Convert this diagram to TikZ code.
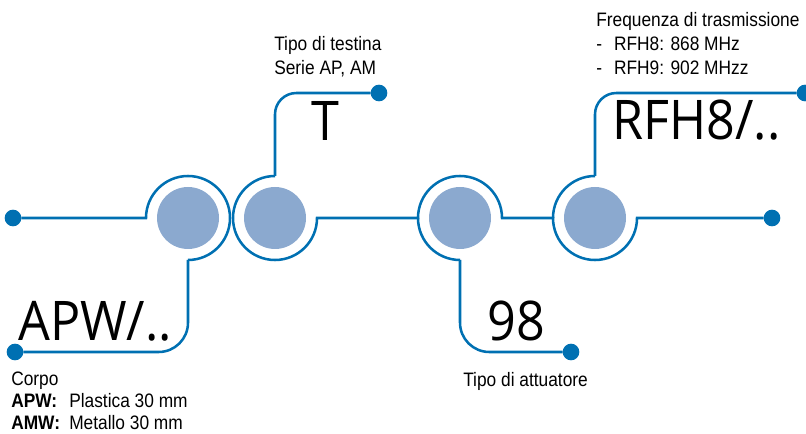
\documentclass[tikz,border=0pt]{standalone}
\usepackage{fontspec}
\newfontfamily\bigfont[FakeStretch=0.92]{Open Sans}
\newfontfamily\tagfont[FakeStretch=0.89]{Liberation Sans}
\definecolor{wireblue}{RGB}{0,112,178}
\definecolor{hubfill}{RGB}{139,169,207}
\tikzset{
  wire/.style={draw=wireblue, line width=1.9pt},
  hub/.style={circle, minimum size=63pt, inner sep=0pt, outer sep=0pt},
  disc/.style={circle, fill=hubfill, minimum size=46.5pt, inner sep=0pt},
  pin/.style={circle, fill=wireblue, minimum size=12.5pt, inner sep=0pt, outer sep=0pt},
  code/.style={anchor=base west, inner sep=0pt, font=\bigfont\fontsize{41}{41}\selectfont},
  note/.style={anchor=base west, inner sep=0pt, align=left, font=\tagfont\fontsize{14.6}{18}\selectfont},
}
\begin{document}
\begin{tikzpicture}[x=0.75pt,y=0.75pt,yscale=-1,xscale=1]
	\useasboundingbox (0,0) rectangle (806,434);
	% hubs
	\node[hub] (h1) at (188,218) {};
	\node[hub] (h2) at (275,218) {};
	\node[hub] (h3) at (460,218) {};
	\node[hub] (h4) at (595,218) {};
	\node[disc] (c1) at (h1) {};
	\node[disc] (c2) at (h2) {};
	\node[disc] (c3) at (h3) {};
	\node[disc] (c4) at (h4) {};
	% pins
	\node[pin] (pL) at (13,218) {};
	\node[pin] (pA) at (15,352) {};
	\node[pin] (pT) at (379,93) {};
	\node[pin] (p98) at (571,352) {};
	\node[pin] (pF) at (805,93) {};
	\node[pin] (pR) at (772,218) {};
	% wires
	\draw[wire] (pL) -- (h1.west) arc[start angle=180, end angle=450, radius=42];
	\draw[wire, rounded corners=22pt] (h1.south) |- (pA);
	\draw[wire, rounded corners=16pt] (pT) -| (h2.north);
	\draw[wire] (h2.north) arc[start angle=270, end angle=0, radius=42] -- (h3.west) arc[start angle=180, end angle=360, radius=42] -- (h4.west) arc[start angle=180, end angle=0, radius=42] -- (pR);
	\draw[wire] (h3.west) arc[start angle=180, end angle=90, radius=42];
	\draw[wire, rounded corners=22pt] (h3.south) |- (p98);
	\draw[wire, rounded corners=16pt] (pF) -| (h4.north);
	\draw[wire] (h4.north) arc[start angle=270, end angle=180, radius=42];
	% codes
	\node[code] (tAPW) at (18,340) {APW/..};
	\node[code] (tT) at (311,141) {T};
	\node[code] (t98) at (487,340) {98};
	\node[code] (tRFH) at (612,140) {RFH8/..};
	% notes (base = last line)
	\node[note] (nTesta) at (274,74.3) {Tipo di testina\\Serie AP, AM};
	\node[note] (nFreq) at (596,75) {Frequenza di trasmissione\\-\hspace{9pt}RFH8: 868 MHz\\-\hspace{9pt}RFH9: 902 MHzz};
	\node[note] (nAtt) at (463,386) {Tipo di attuatore};
	\node[note, font=\tagfont\fontsize{14.6}{16.3}\selectfont] (nCorpo) at (11,429) {Corpo\\\makebox[43.5pt][l]{\textbf{APW:}}Plastica 30 mm\\\makebox[43.5pt][l]{\textbf{AMW:}}Metallo 30 mm};
\end{tikzpicture}
\end{document}
